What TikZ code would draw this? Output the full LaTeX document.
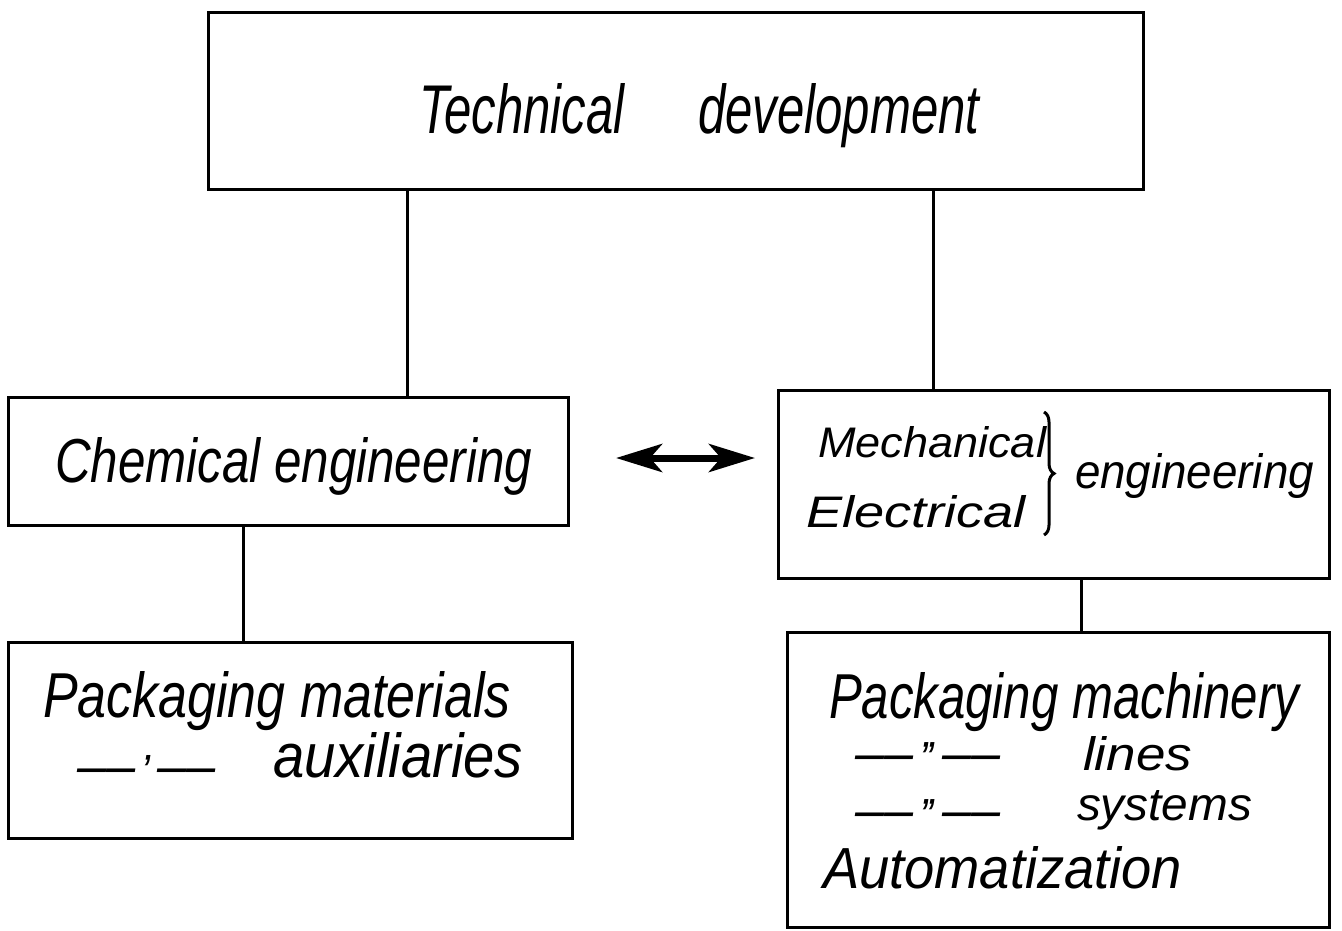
\documentclass[tikz,border=0pt]{standalone}
\usepackage{graphicx}
\usepackage{fontspec}
\newfontfamily\hand{Liberation Sans}[FakeStretch=0.8]
\usetikzlibrary{arrows.meta,decorations.pathreplacing}
\newcommand{\fitwh}[3]{\resizebox{#1bp}{#2bp}{#3}}
\newcommand{\fitw}[2]{\resizebox{#1bp}{!}{#2}}
\newcommand{\ditto}[1]{{\fontsize{40}{40}\selectfont\bfseries ——\hspace{8bp}#1\hspace{8bp}——}}
\begin{document}
\begin{tikzpicture}[x=1bp,y=-1bp,
  box/.style={draw,line width=3bp,inner sep=0pt,outer sep=0pt},
  lbl/.style={anchor=base west,inner sep=0pt,outer sep=0pt,font=\hand\itshape},
  conn/.style={line width=3bp},
  dbl/.style={line width=7bp,{Stealth[length=46bp,width=28bp,inset=12bp]}-{Stealth[length=46bp,width=28bp,inset=12bp]}}]
\useasboundingbox (0,0) rectangle (1342,930);
% boxes
\node[box,minimum width=934bp,minimum height=177bp] (T) at (676,100.5) {};
\node[box,minimum width=559bp,minimum height=128bp] (C) at (288.5,461) {};
\node[box,minimum width=551bp,minimum height=188bp] (M) at (1053.5,484) {};
\node[box,minimum width=563bp,minimum height=196bp] (P) at (290.5,740) {};
\node[box,minimum width=542bp,minimum height=295bp] (R) at (1058,779.5) {};
% connectors
\coordinate (x1) at (407,0);
\coordinate (x2) at (933,0);
\coordinate (x3) at (243,0);
\coordinate (x4) at (1081,0);
\draw[conn] (T.south -| x1) -- (C.north -| x1);
\draw[conn] (T.south -| x2) -- (M.north -| x2);
\draw[conn] (C.south -| x3) -- (P.north -| x3);
\draw[conn] (M.south -| x4) -- (R.north -| x4);
\coordinate (a1) at (616,458);
\coordinate (a2) at (755,458);
\draw[dbl] (a1) -- (a2);
% texts
\node[lbl] (t1) at (419,133) {\fitwh{560}{50}{Technical\hspace{1.2em}development}};
\node[lbl] (t2) at (55,482) {\fitwh{477}{45}{Chemical engineering}};
\node[lbl] (t3) at (818,457) {\fitwh{228}{31}{Mechanical}};
\node[lbl] (t4) at (806,527) {\fitwh{220}{32}{Electrical}};
\draw[line width=3bp,decorate,decoration={brace,amplitude=10bp}] (1044,412) -- (1044,535);
\node[lbl] (t5) at (1075,488) {\fitwh{239}{35}{engineering}};
\node[lbl] (t6) at (43,717) {\fitwh{468}{46}{Packaging materials}};
\node[lbl] (t7) at (77,780) {\fitw{139}{\ditto{’}}};
\node[lbl] (t8) at (273,777) {\fitwh{250}{45}{auxiliaries}};
\node[lbl] (t9) at (829,718) {\fitwh{470}{46}{Packaging machinery}};
\node[lbl] (t10) at (855,767) {\fitw{145}{\ditto{”}}};
\node[lbl] (t11) at (1083,770) {\fitwh{109}{34}{lines}};
\node[lbl] (t12) at (855,824) {\fitw{145}{\ditto{”}}};
\node[lbl] (t13) at (1077,820) {\fitwh{175}{30}{systems}};
\node[lbl] (t14) at (823,888) {\fitwh{359}{42}{Automatization}};
\end{tikzpicture}
\end{document}
